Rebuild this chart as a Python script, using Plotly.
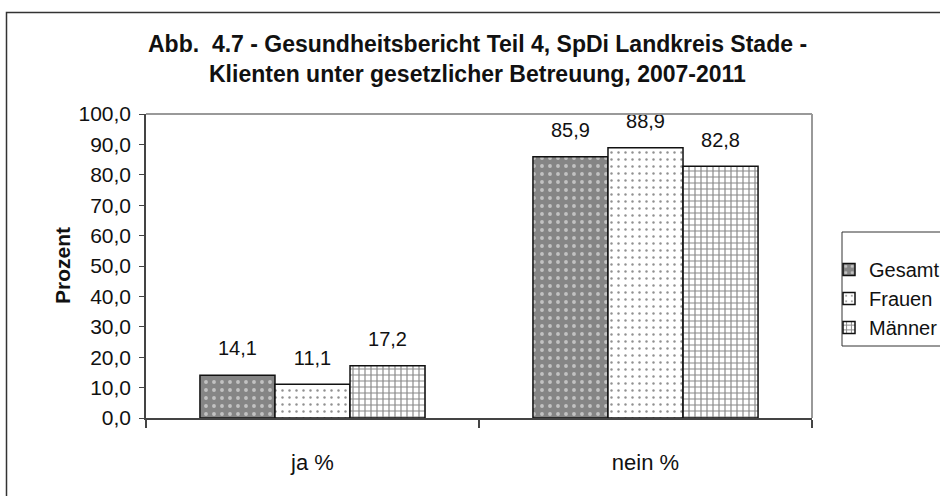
import plotly.graph_objects as go

categories = ["ja %", "nein %"]
series_names = ["Gesamt", "Frauen", "Männer"]
gesamt = [14.1, 85.9]
frauen = [11.1, 88.9]
maenner = [17.2, 82.8]
y_ticks = [0, 10, 20, 30, 40, 50, 60, 70, 80, 90, 100]

values = [gesamt, frauen, maenner]
patterns = [
    dict(shape=".", fgcolor="white", bgcolor="#858585", size=8, solidity=0.18),
    dict(shape=".", fgcolor="#222222", bgcolor="white", size=7, solidity=0.1),
    dict(shape="+", fgcolor="#111111", bgcolor="white", size=6, solidity=0.35),
]
base_colors = ["#858585", "white", "white"]

FONT = "Liberation Sans, Arial, sans-serif"
GAP = 0.324

fig = go.Figure()
for i, (name, vals) in enumerate(zip(series_names, values)):
    fig.add_trace(go.Bar(
        x=categories, y=vals, name=name, legendgroup=name,
        marker=dict(color=base_colors[i], pattern=patterns[i],
                    line=dict(color="#111111", width=1.5)),
        hoverinfo="x+y+name",
    ))
# value labels, grouped like the bars
for i, (name, vals) in enumerate(zip(series_names, values)):
    fig.add_trace(go.Scatter(
        x=categories, y=vals, mode="markers+text", showlegend=False,
        text=[f"{v:.1f}".replace(".", ",") for v in vals],
        textposition="top center",
        textfont=dict(size=20, color="#111111", family=FONT),
        marker=dict(size=22, opacity=0), cliponaxis=False, hoverinfo="skip",
    ))

L, R, T, B = 146, 128, 114, 78
W, H = 940, 496
pw, ph = W - L - R, H - T - B

def px(x):
    return (x - L) / pw

def py(y):
    return (H - B - y) / ph

fig.update_layout(
    width=W, height=H,
    margin=dict(l=L, r=R, t=T, b=B, autoexpand=False),
    paper_bgcolor="white", plot_bgcolor="white",
    separators=",.",
    barmode="group", bargap=GAP, bargroupgap=0,
    scattermode="group", scattergap=GAP,
    font=dict(family=FONT, color="#111111"),
    showlegend=True,
    legend=dict(x=px(829), y=py(250), xanchor="left", yanchor="top",
                borderwidth=0, bgcolor="rgba(0,0,0,0)",
                font=dict(size=20, family=FONT), tracegroupgap=0,
                traceorder="grouped"),
    xaxis=dict(showline=True, linecolor="#444444", linewidth=2,
               ticks="outside", tickson="boundaries", ticklen=8,
               tickcolor="#444444", tickwidth=1.5,
               tickfont=dict(size=22, family=FONT), ticklabelstandoff=24,
               showgrid=False),
    yaxis=dict(range=[0, 100], tickvals=y_ticks, tickformat=".1f",
               showline=True, linecolor="#444444", linewidth=1.5,
               ticks="outside", ticklen=5, tickcolor="#444444",
               tickfont=dict(size=21, family=FONT), ticklabelstandoff=4,
               showgrid=False, zeroline=False),
    annotations=[
        dict(text="<b>Abb.  4.7 - Gesundheitsbericht Teil 4, SpDi Landkreis Stade -</b>",
             xref="paper", yref="paper", x=px(477), y=py(44), showarrow=False,
             xanchor="center", yanchor="middle", font=dict(size=23, family=FONT)),
        dict(text="<b>Klienten unter gesetzlicher Betreuung, 2007-2011</b>",
             xref="paper", yref="paper", x=px(477), y=py(74), showarrow=False,
             xanchor="center", yanchor="middle", font=dict(size=23, family=FONT)),
        dict(text="<b>Prozent</b>", textangle=-90,
             xref="paper", yref="paper", x=px(62), y=py(266), showarrow=False,
             xanchor="center", yanchor="middle", font=dict(size=21, family=FONT)),
    ],
    shapes=[
        dict(type="line", xref="paper", yref="paper", x0=0, x1=1, y0=1, y1=1,
             line=dict(color="#999999", width=2)),
        dict(type="line", xref="paper", yref="paper", x0=1, x1=1, y0=0, y1=1,
             line=dict(color="#999999", width=2)),
        dict(type="rect", xref="paper", yref="paper",
             x0=px(6.5), x1=px(960), y0=py(520), y1=py(12.5),
             line=dict(color="#333333", width=1.5)),
        dict(type="rect", xref="paper", yref="paper",
             x0=px(842), x1=px(960), y0=py(346), y1=py(232),
             line=dict(color="#333333", width=1)),
    ],
)

fig.write_html("out.html", config={"displayModeBar": False},
               post_script="document.body.style.margin='0';")
